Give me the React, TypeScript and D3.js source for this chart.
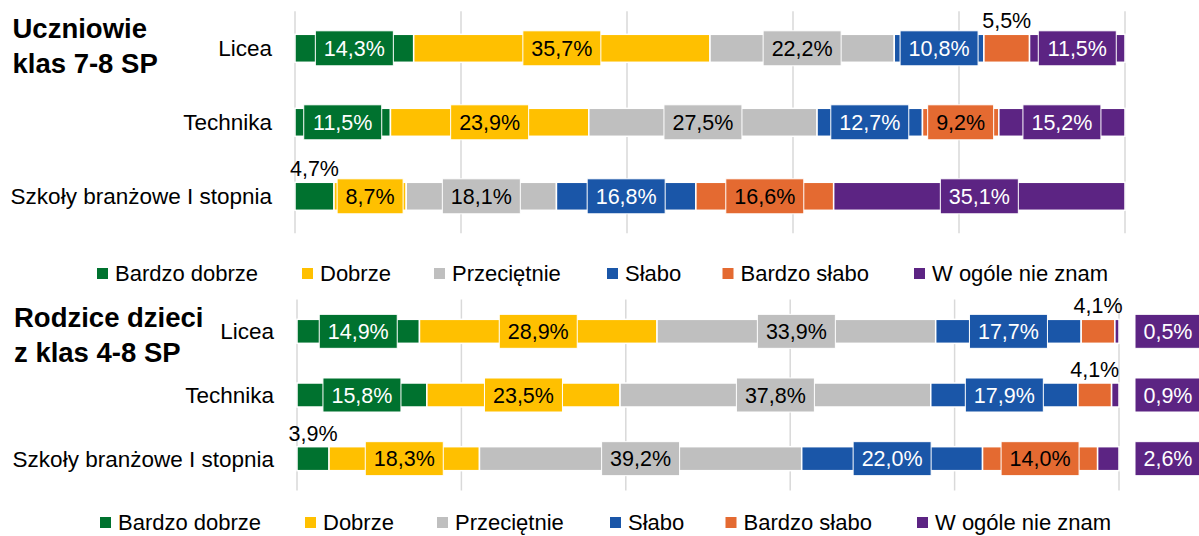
import React from "react";
import * as d3 from "d3";

const seriesNames = ["Bardzo dobrze", "Dobrze", "Przeciętnie", "Słabo", "Bardzo słabo", "W ogóle nie znam"];
const seriesColors = ["#00722F", "#FFC000", "#BFBFBF", "#1A56A8", "#E46A31", "#5C2483"];
const labelTextColors = ["#fff", "#000", "#000", "#fff", "#000", "#fff"];

const categories = ["Licea", "Technika", "Szkoły branżowe I stopnia"];

const titleTop = ["Uczniowie", "klas 7-8 SP"];
const titleBottom = ["Rodzice dzieci", "z klas 4-8 SP"];

const studentsValues = [
  [14.3, 35.7, 22.2, 10.8, 5.5, 11.5],
  [11.5, 23.9, 27.5, 12.7, 9.2, 15.2],
  [4.7, 8.7, 18.1, 16.8, 16.6, 35.1],
];

const parentsValues = [
  [14.9, 28.9, 33.9, 17.7, 4.1, 0.5],
  [15.8, 23.5, 37.8, 17.9, 4.1, 0.9],
  [3.9, 18.3, 39.2, 22.0, 14.0, 2.6],
];

const gridTicks = [0, 20, 40, 60, 80, 100];

const FONT = "'Liberation Sans', Arial, sans-serif";

const fmt = (v: number) => v.toFixed(1).replace(".", ",") + "%";

type PanelProps = {
  values: number[][];
  title: string[];
  titleX: number;
  titleY: number;
  x0: number;
  x1: number;
  y0: number;
  y1: number;
  barH: number;
  boxH: number;
  catX: number;
  legendX: number;
  legendY: number;
  lastOutside: boolean;
};

const legendOffsets = [0, 205, 337, 510, 625.5, 817];

function Panel(p: PanelProps) {
  const x = d3.scaleLinear().domain([0, 100]).range([p.x0, p.x1]);
  const y = d3.scalePoint<string>().domain(categories).range([p.y0, p.y1]).padding(0.5);
  const stack = d3.stack<number[]>().keys(seriesNames.map((_, i) => String(i))).value((d, k) => d[+k]);
  const stacked = stack(p.values as any);

  const segs: any[] = [];
  stacked.forEach((layer, si) => {
    layer.forEach((pt, ci) => {
      segs.push({ si, ci, a: pt[0], b: pt[1], v: p.values[ci][si] });
    });
  });

  return (
    <g>
      {gridTicks.map((t) => (
        <line key={t} x1={x(t)} x2={x(t)} y1={p.y0} y2={p.y1} stroke="#D9D9D9" strokeWidth={1.5} />
      ))}
      {p.title.map((t, i) => (
        <text key={i} x={p.titleX} y={p.titleY + i * 35} fontFamily={FONT} fontWeight="bold" fontSize={27.5} fill="#000">
          {t}
        </text>
      ))}
      {categories.map((c) => (
        <text key={c} x={p.catX} y={y(c)!} dy="0.35em" textAnchor="end" fontFamily={FONT} fontSize={22.5} fill="#000">
          {c}
        </text>
      ))}
      {segs.map((s) => (
        <rect
          key={`r${s.si}-${s.ci}`}
          x={x(s.a)}
          y={y(categories[s.ci])! - p.barH / 2}
          width={x(s.b) - x(s.a)}
          height={p.barH}
          fill={seriesColors[s.si]}
          stroke="#fff"
          strokeWidth={1.5}
        />
      ))}
      {segs.map((s) => {
        const cy = y(categories[s.ci])!;
        const label = fmt(s.v);
        const w = 12 * label.length + 18;
        if (p.lastOutside && s.si === seriesNames.length - 1) {
          const cx = x(100) + 49;
          return (
            <g key={`l${s.si}-${s.ci}`}>
              <rect x={cx - w / 2} y={cy - p.boxH / 2} width={w} height={p.boxH} fill={seriesColors[s.si]} stroke="#fff" strokeWidth={1} />
              <text x={cx} y={cy} dy="0.36em" textAnchor="middle" fontFamily={FONT} fontSize={21.5} fill={labelTextColors[s.si]}>
                {label}
              </text>
            </g>
          );
        }
        const cx = (x(s.a) + x(s.b)) / 2;
        if (s.v < 6) {
          return (
            <text key={`l${s.si}-${s.ci}`} x={cx} y={cy - p.barH / 2 - 6} textAnchor="middle" fontFamily={FONT} fontSize={21.5} fill="#000">
              {label}
            </text>
          );
        }
        return (
          <g key={`l${s.si}-${s.ci}`}>
            <rect x={cx - w / 2} y={cy - p.boxH / 2} width={w} height={p.boxH} fill={seriesColors[s.si]} stroke="#fff" strokeWidth={1} />
            <text x={cx} y={cy} dy="0.36em" textAnchor="middle" fontFamily={FONT} fontSize={21.5} fill={labelTextColors[s.si]}>
              {label}
            </text>
          </g>
        );
      })}
      {seriesNames.map((n, i) => (
        <g key={n} transform={`translate(${p.legendX + legendOffsets[i]},${p.legendY})`}>
          <rect x={0} y={-5.5} width={11} height={11} fill={seriesColors[i]} />
          <text x={18} y={0} dy="0.36em" fontFamily={FONT} fontSize={22} fill="#000">
            {n}
          </text>
        </g>
      ))}
    </g>
  );
}

export default function App() {
  return (
    <svg width={1199} height={536} style={{ position: "absolute", left: 0, top: 0, background: "#fff" }}>
      <rect width={1199} height={536} fill="#fff" />
      <Panel
        values={studentsValues}
        title={titleTop}
        titleX={12.5}
        titleY={38}
        x0={295}
        x1={1125}
        y0={11.3}
        y1={233.3}
        barH={28}
        boxH={35}
        catX={272}
        legendX={97}
        legendY={273.5}
        lastOutside={false}
      />
      <Panel
        values={parentsValues}
        title={titleBottom}
        titleX={14}
        titleY={327}
        x0={297}
        x1={1119}
        y0={299.5}
        y1={490.5}
        barH={24}
        boxH={34}
        catX={274}
        legendX={100}
        legendY={522.5}
        lastOutside={true}
      />
    </svg>
  );
}
